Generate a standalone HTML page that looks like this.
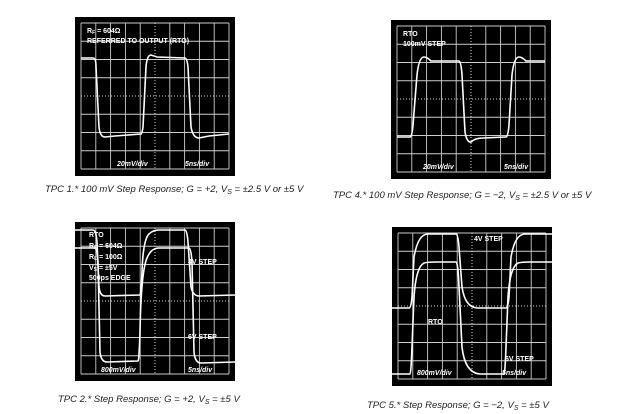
<!DOCTYPE html>
<html><head><style>
html,body{margin:0;padding:0;background:#fff;width:620px;height:414px;overflow:hidden}
svg text{font-family:"Liberation Sans",sans-serif}
.lab{fill:#fff;font-size:7px;font-weight:bold}
.it{font-style:italic}
.cap{fill:#222;font-size:9.5px;font-style:italic}
.tr{fill:none;stroke:#fff;stroke-width:1.6}
</style></head><body>
<svg width="620" height="414" viewBox="0 0 620 414" xmlns="http://www.w3.org/2000/svg">
<defs>
<g id="grid">
<rect x="0" y="0" width="160" height="159" fill="#000"/>
<g stroke="#ccc" stroke-width="0.9">
<line x1="6" y1="6" x2="6" y2="152"/><line x1="20.8" y1="6" x2="20.8" y2="152"/><line x1="35.6" y1="6" x2="35.6" y2="152"/><line x1="50.4" y1="6" x2="50.4" y2="152"/><line x1="65.2" y1="6" x2="65.2" y2="152"/><line x1="94.8" y1="6" x2="94.8" y2="152"/><line x1="109.6" y1="6" x2="109.6" y2="152"/><line x1="124.4" y1="6" x2="124.4" y2="152"/><line x1="139.2" y1="6" x2="139.2" y2="152"/><line x1="154" y1="6" x2="154" y2="152"/>
<line x1="6" y1="6" x2="154" y2="6"/><line x1="6" y1="24.25" x2="154" y2="24.25"/><line x1="6" y1="42.5" x2="154" y2="42.5"/><line x1="6" y1="60.75" x2="154" y2="60.75"/><line x1="6" y1="97.25" x2="154" y2="97.25"/><line x1="6" y1="115.5" x2="154" y2="115.5"/><line x1="6" y1="133.75" x2="154" y2="133.75"/><line x1="6" y1="152" x2="154" y2="152"/>
</g>
<g stroke="#ddd" stroke-width="1" stroke-dasharray="1 2">
<line x1="80" y1="6" x2="80" y2="152"/><line x1="6" y1="79" x2="154" y2="79"/>
</g>
</g>
</defs>

<g transform="translate(75,17)">
<use href="#grid"/>
<path class="tr" d="M6 41 L18 41 Q21 41 21 50 L24 110 Q25 120 30 120 L40 119 L66 117 Q67 117 68 110 L71 50 Q72 38 76 38 L82 40 L110 41 Q112 41 113 50 L116 110 Q118 121 124 121 L134 119 L154 117"/>
<text class="lab" x="12" y="16">R<tspan font-size="5" dy="1">F</tspan><tspan dy="-1"> = 604Ω</tspan></text>
<text class="lab" x="12" y="26">REFERRED TO OUTPUT (RTO)</text>
<text class="lab it" x="42" y="149">20mV/div</text>
<text class="lab it" x="110" y="149">5ns/div</text>
</g>
<text class="cap" x="45" y="192">TPC 1.* 100 mV Step Response; G = +2, V<tspan font-size="7" dy="2">S</tspan><tspan dy="-2"> = ±2.5 V or ±5 V</tspan></text>

<g transform="translate(391,20)">
<use href="#grid"/>
<path class="tr" d="M6 117 L19 117 Q21 117 22 105 L26 55 Q28 37 33 37 Q36 37 40 41 L68 41 Q70 41 71 55 L74 112 Q76 123 80 122 Q84 118 92 118 L115 117 Q117 117 118 105 L121 55 Q123 37 128 37 Q131 37 135 41 L154 41"/>
<text class="lab" x="12" y="16">RTO</text>
<text class="lab" x="12" y="26">100mV STEP</text>
<text class="lab it" x="32" y="149">20mV/div</text>
<text class="lab it" x="113" y="149">5ns/div</text>
</g>
<text class="cap" x="333" y="198">TPC 4.* 100 mV Step Response; G = −2, V<tspan font-size="7" dy="2">S</tspan><tspan dy="-2"> = ±2.5 V or ±5 V</tspan></text>

<g transform="translate(75,222)">
<use href="#grid"/>
<path class="tr" d="M0 8 L18 8 Q21 8 22 20 L24 65 Q25 74 30 74 L65 73 Q66 73 67 50 Q68 18 74 12 Q78 8 84 8 L110 8 Q112 8 113 20 L116 65 Q118 74 124 74 L160 73"/>
<path class="tr" d="M0 26 L20 26 Q22 26 23 40 L25 130 Q26 140 32 140 L63 139 Q64 139 65 110 Q66 50 72 36 Q76 26 84 26 L114 26 Q116 26 117 40 L119 130 Q120 141 126 141 L160 140"/>
<text class="lab" x="14" y="15">RTO</text>
<text class="lab" x="14" y="26">R<tspan font-size="5" dy="1">F</tspan><tspan dy="-1"> = 604Ω</tspan></text>
<text class="lab" x="14" y="37">R<tspan font-size="5" dy="1">L</tspan><tspan dy="-1"> = 100Ω</tspan></text>
<text class="lab" x="14" y="48">V<tspan font-size="5" dy="1">S</tspan><tspan dy="-1"> = ±5V</tspan></text>
<text class="lab" x="14" y="58">500ps EDGE</text>
<text class="lab" x="113" y="42">4V STEP</text>
<text class="lab" x="113" y="117">6V STEP</text>
<text class="lab it" x="26" y="150">800mV/div</text>
<text class="lab it" x="113" y="150">5ns/div</text>
</g>
<text class="cap" x="58" y="402">TPC 2.* Step Response; G = +2, V<tspan font-size="7" dy="2">S</tspan><tspan dy="-2"> = ±5 V</tspan></text>

<g transform="translate(392,227)">
<use href="#grid"/>
<path class="tr" d="M0 81 L17 81 Q19 81 20 70 L22 30 Q26 7 36 7 L64 7 Q66 7 67 20 L70 60 Q73 80 85 81 L114 81 Q116 81 117 70 L119 30 Q123 7 133 7 L160 7"/>
<path class="tr" d="M0 147 L18 147 Q19 147 20 120 L22 70 Q24 40 32 36 Q36 35 44 35 L64 35 Q66 35 67 60 L70 120 Q73 146 88 147 L112 147 Q113 147 114 120 L116 70 Q118 40 126 36 Q130 35 138 35 L160 35"/>
<text class="lab" x="82" y="14">4V STEP</text>
<text class="lab" x="36" y="97">RTO</text>
<text class="lab" x="113" y="134">6V STEP</text>
<text class="lab it" x="25" y="148">800mV/div</text>
<text class="lab it" x="110" y="148">5ns/div</text>
</g>
<text class="cap" x="367" y="408">TPC 5.*  Step Response; G =  −2, V<tspan font-size="7" dy="2">S</tspan><tspan dy="-2"> = ±5 V</tspan></text>
</svg>
</body></html>
